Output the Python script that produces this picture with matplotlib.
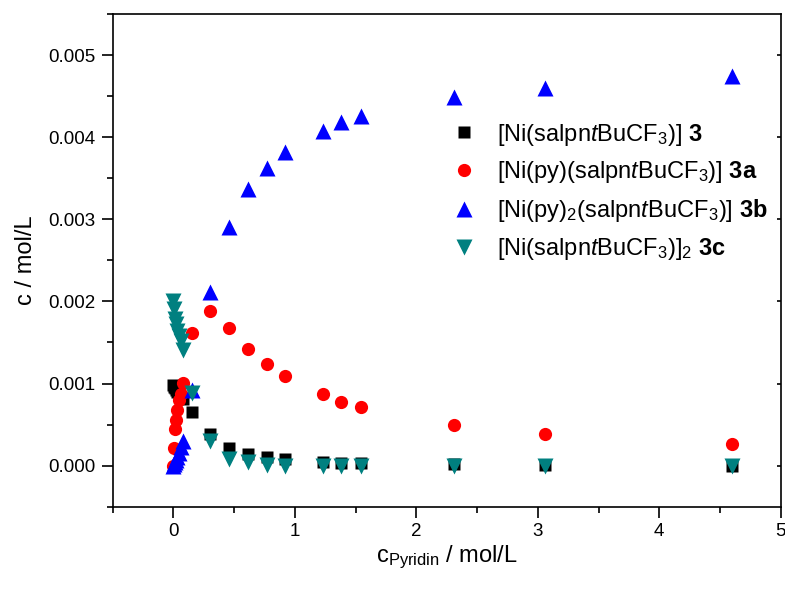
import matplotlib.pyplot as plt
from matplotlib.ticker import MultipleLocator, FormatStrFormatter

plt.rcParams['font.family'] = ['Liberation Sans', 'DejaVu Sans']
plt.rcParams['mathtext.fontset'] = 'custom'
plt.rcParams['mathtext.rm'] = 'Liberation Sans'
plt.rcParams['mathtext.it'] = 'Liberation Sans:italic'
plt.rcParams['mathtext.bf'] = 'Liberation Sans:bold'

# pyridine concentration (mol/L)
c_py = [0, 0.008, 0.015, 0.023, 0.031, 0.046, 0.061, 0.077, 0.153, 0.30,
        0.46, 0.614, 0.767, 0.92, 1.23, 1.38, 1.54, 2.31, 3.06, 4.6]

# concentrations of the species (mol/L)
c_3 = [0.00098, 0.00096, 0.00094, 0.00092, 0.00090, 0.00087, 0.00084, 0.00081,
       0.00065, 0.00039, 0.00022, 0.00014, 0.00011, 0.00008, 0.000045,
       0.000035, 0.00003, 0.000015, 0.000008, 0.0]
c_3a = [0.0, 0.00022, 0.00045, 0.00055, 0.00068, 0.00080, 0.00087, 0.00101,
        0.00162, 0.00188, 0.00168, 0.00142, 0.00124, 0.00109, 0.00087,
        0.00078, 0.00072, 0.00050, 0.00039, 0.00026]
c_3b = [0.0, 0.00002, 0.00004, 0.00007, 0.00010, 0.00016, 0.00023, 0.00030,
        0.00092, 0.00212, 0.00291, 0.00337, 0.00363, 0.00382, 0.00408,
        0.00418, 0.00426, 0.00449, 0.00460, 0.00474]
c_3c = [0.00201, 0.00191, 0.00178, 0.00172, 0.00164, 0.00158, 0.00152, 0.00141,
        0.00089, 0.00030, 0.00008, 0.00004, 0.00001, 0.0, 0.0,
        0.0, 0.0, 0.0, 0.0, 0.0]

labels = [r'[Ni(salpn$\mathit{t}$BuCF$_3$)] $\mathbf{3}$',
          r'[Ni(py)(salpn$\mathit{t}$BuCF$_3$)] $\mathbf{3a}$',
          r'[Ni(py)$_2$(salpn$\mathit{t}$BuCF$_3$)] $\mathbf{3b}$',
          r'[Ni(salpn$\mathit{t}$BuCF$_3$)]$_2$ $\mathbf{3c}$']

fig = plt.figure(figsize=(7.85, 5.89), dpi=100)
ax = fig.add_axes([0.1436, 0.1397, 0.851, 0.8365])

ax.plot(c_py, c_3, 's', color='black', ms=8, mec='none', label=labels[0])
ax.plot(c_py, c_3a, 'o', color='red', ms=9.5, mec='none', label=labels[1])
ax.plot(c_py, c_3b, '^', color='blue', ms=11, mec='none', label=labels[2])
ax.plot(c_py, c_3c, 'v', color='#008080', ms=11, mec='none', label=labels[3])

ax.set_xlim(-0.5, 5)
ax.set_ylim(-0.0005, 0.0055)
ax.xaxis.set_major_locator(MultipleLocator(1))
ax.xaxis.set_minor_locator(MultipleLocator(0.5))
ax.yaxis.set_major_locator(MultipleLocator(0.001))
ax.yaxis.set_minor_locator(MultipleLocator(0.0005))
ax.yaxis.set_major_formatter(FormatStrFormatter('%.3f'))

for s in ax.spines.values():
    s.set_linewidth(1.2)
ax.tick_params(which='both', direction='out', labelsize=13.5, width=1.2,
               top=False, right=False)
ax.tick_params(which='major', length=8)
ax.tick_params(which='minor', length=4)
ax.tick_params(axis='y', pad=4.5)

# small inward ticks on the right frame
ax_r = ax.twinx()
ax_r.set_ylim(ax.get_ylim())
ax_r.yaxis.set_major_locator(MultipleLocator(0.001))
ax_r.tick_params(direction='in', length=3, width=1.2, labelright=False)
for s in ax_r.spines.values():
    s.set_visible(False)

ax.set_xlabel(r'c$_{\mathrm{Pyridin}}$ / mol/L', fontsize=17, labelpad=3)
ax.set_ylabel('c / mol/L', fontsize=17, labelpad=8)

ax.legend(loc='center left', bbox_to_anchor=(0.5076, 0.639), frameon=False,
          fontsize=17, handlelength=1.0, handletextpad=0.91, labelspacing=0.5,
          borderpad=0, borderaxespad=0, numpoints=1)

fig.savefig('out.png', dpi=100)
